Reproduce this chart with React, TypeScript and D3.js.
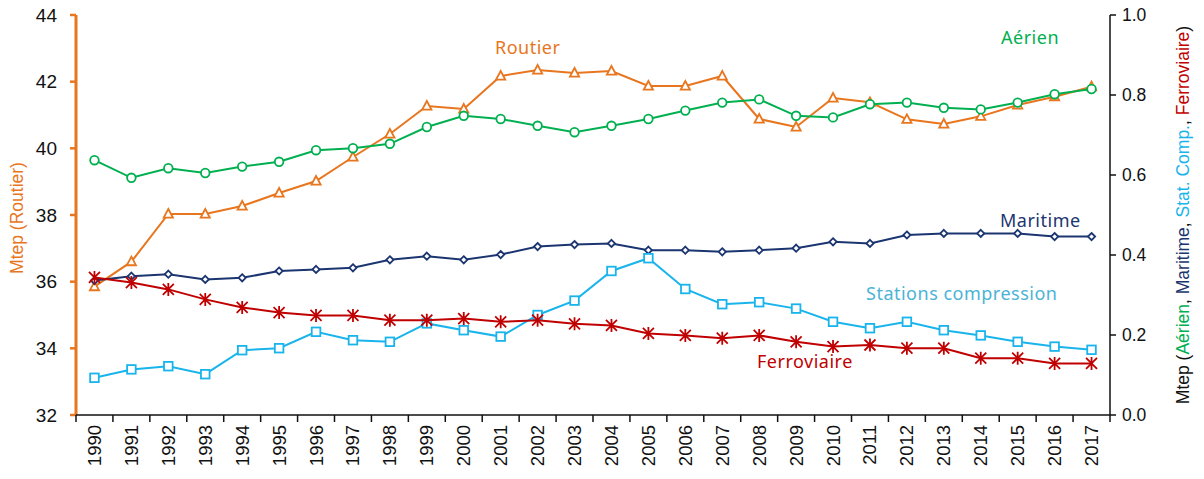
import React from "react";
import { scaleBand, scaleLinear, line } from "d3";

const years = [
  1990, 1991, 1992, 1993, 1994, 1995, 1996, 1997, 1998, 1999, 2000, 2001, 2002, 2003,
  2004, 2005, 2006, 2007, 2008, 2009, 2010, 2011, 2012, 2013, 2014, 2015, 2016, 2017,
];

// axe gauche (Mtep)
const routier = [
  35.85, 36.6, 38.03, 38.03, 38.27, 38.66, 39.02, 39.74, 40.43, 41.27, 41.18, 42.17, 42.35, 42.26,
  42.32, 41.87, 41.87, 42.17, 40.88, 40.64, 41.51, 41.38, 40.87, 40.73, 40.96, 41.3, 41.55, 41.85,
];

// axe droit (Mtep)
const aerien = [
  0.637, 0.593, 0.617, 0.605, 0.621, 0.633, 0.662, 0.667, 0.678, 0.72, 0.748, 0.74, 0.723, 0.707,
  0.723, 0.74, 0.761, 0.781, 0.789, 0.748, 0.744, 0.777, 0.781, 0.768, 0.764, 0.781, 0.802, 0.815,
];
const maritime = [
  0.336, 0.347, 0.352, 0.339, 0.343, 0.36, 0.364, 0.368, 0.388, 0.397, 0.388, 0.401, 0.421, 0.426,
  0.429, 0.412, 0.412, 0.408, 0.412, 0.417, 0.433, 0.429, 0.45, 0.454, 0.454, 0.454, 0.446, 0.446,
];
const stations = [
  0.093, 0.114, 0.122, 0.102, 0.162, 0.167, 0.208, 0.187, 0.183, 0.229, 0.212, 0.196, 0.25, 0.286,
  0.36, 0.392, 0.315, 0.277, 0.282, 0.266, 0.233, 0.217, 0.233, 0.212, 0.199, 0.183, 0.171, 0.163,
];
const ferroviaire = [
  0.344, 0.331, 0.314, 0.289, 0.269, 0.256, 0.249, 0.249, 0.237, 0.237, 0.241, 0.233, 0.237, 0.228,
  0.224, 0.204, 0.199, 0.192, 0.199, 0.183, 0.171, 0.175, 0.167, 0.167, 0.142, 0.142, 0.129, 0.129,
];

const leftTicks = [32, 34, 36, 38, 40, 42, 44];
const rightTicks = [0, 0.2, 0.4, 0.6, 0.8, 1.0];

const C = {
  routier: "#E8761E",
  aerien: "#00B050",
  maritime: "#1B3570",
  stations: "#1AB4EC",
  ferro: "#C00000",
};

const W = 1204;
const H = 479;
const m = { left: 76, right: 1110, top: 15, bottom: 415 };
const FONT = "'Liberation Sans', Arial, sans-serif";
const LFONT = "'Noto Sans', 'Open Sans', sans-serif";

const x = scaleBand<number>().domain(years).range([m.left, m.right]);
const cx = (yr: number) => (x(yr) as number) + x.bandwidth() / 2;
const yL = scaleLinear().domain([32, 44]).range([m.bottom, m.top]);
const yR = scaleLinear().domain([0, 1]).range([m.bottom, m.top]);

type Marker = "triangle" | "circle" | "diamond" | "square" | "star";

const Mark = ({ type, px, py, color }: { type: Marker; px: number; py: number; color: string }) => {
  if (type === "circle")
    return <circle cx={px} cy={py} r={4.3} fill="#fff" stroke={color} strokeWidth={1.8} />;
  if (type === "square")
    return <rect x={px - 4.3} y={py - 4.3} width={8.6} height={8.6} fill="#fff" stroke={color} strokeWidth={1.8} />;
  if (type === "diamond")
    return (
      <path
        d={`M${px},${py - 3.6}L${px + 3.6},${py}L${px},${py + 3.6}L${px - 3.6},${py}Z`}
        fill="#fff"
        stroke={color}
        strokeWidth={1.8}
      />
    );
  if (type === "triangle")
    return (
      <path
        d={`M${px},${py - 5}L${px + 4.6},${py + 3.6}L${px - 4.6},${py + 3.6}Z`}
        fill="#fff"
        stroke={color}
        strokeWidth={1.8}
      />
    );
  const s = 5.5;
  return (
    <path
      d={`M${px - s},${py - s}L${px + s},${py + s}M${px - s},${py + s}L${px + s},${py - s}M${px},${py - s - 1}L${px},${py + s + 1}`}
      stroke={color}
      strokeWidth={1.8}
      fill="none"
    />
  );
};

const Series = ({
  values,
  scale,
  color,
  marker,
}: {
  values: number[];
  scale: (v: number) => number;
  color: string;
  marker: Marker;
}) => {
  const pts = values.map((v, i) => [cx(years[i]), scale(v)] as [number, number]);
  const d = line()(pts) || "";
  return (
    <g>
      <path d={d} fill="none" stroke={color} strokeWidth={2} />
      {pts.map((p, i) => (
        <Mark key={i} type={marker} px={p[0]} py={p[1]} color={color} />
      ))}
    </g>
  );
};

const labels = [
  { text: "Routier", x: 495, y: 54, color: C.routier },
  { text: "Aérien", x: 1001, y: 44, color: C.aerien },
  { text: "Maritime", x: 1000, y: 227, color: C.maritime },
  { text: "Stations compression", x: 866, y: 300, color: "#4BB3D6" },
  { text: "Ferroviaire", x: 757, y: 368, color: C.ferro },
];

export default function App() {
  return (
    <svg
      width={W}
      height={H}
      style={{ position: "absolute", left: 0, top: 0, background: "#fff" }}
      fontFamily={FONT}
    >
      {/* axe gauche */}
      <line x1={m.left} x2={m.left} y1={m.top} y2={m.bottom} stroke={C.routier} strokeWidth={3} />
      {leftTicks.map((t) => (
        <g key={t}>
          <line x1={m.left - 6} x2={m.left} y1={yL(t)} y2={yL(t)} stroke={C.routier} strokeWidth={2.5} />
          <text x={m.left - 19} y={yL(t)} dy="0.35em" textAnchor="end" fontSize={19} fill="#111">
            {t}
          </text>
        </g>
      ))}
      <text
        transform={`translate(23,${(m.top + m.bottom) / 2 + 3}) rotate(-90)`}
        textAnchor="middle"
        fontSize={17.5}
        fill={C.routier}
      >
        Mtep (Routier)
      </text>

      {/* axe droit */}
      <line x1={m.right} x2={m.right} y1={m.top} y2={m.bottom} stroke="#111" strokeWidth={1.5} />
      {rightTicks.map((t) => (
        <g key={t}>
          <line x1={m.right} x2={m.right + 6} y1={yR(t)} y2={yR(t)} stroke="#111" strokeWidth={1.5} />
          <text x={m.right + 12} y={yR(t)} dy="0.35em" fontSize={17.5} fill="#111">
            {t.toFixed(1)}
          </text>
        </g>
      ))}
      <text
        transform={`translate(1189,${(m.top + m.bottom) / 2}) rotate(-90)`}
        textAnchor="middle"
        fontSize={17.5}
        fill="#111"
      >
        <tspan>Mtep (</tspan>
        <tspan fill={C.aerien}>Aérien</tspan>
        <tspan>, </tspan>
        <tspan fill={C.maritime}>Maritime</tspan>
        <tspan>, </tspan>
        <tspan fill={C.stations}>Stat. Comp.</tspan>
        <tspan>, </tspan>
        <tspan fill={C.ferro}>Ferroviaire</tspan>
        <tspan>)</tspan>
      </text>

      {/* axe des x */}
      <line x1={m.left} x2={m.right} y1={m.bottom} y2={m.bottom} stroke="#111" strokeWidth={1.5} />
      {[...years.map((yr) => x(yr) as number), m.right].map((px, i) => (
        <line key={i} x1={px} x2={px} y1={m.bottom} y2={m.bottom + 7} stroke="#111" strokeWidth={1.5} />
      ))}
      {years.map((yr) => (
        <text
          key={yr}
          transform={`translate(${cx(yr)},${m.bottom + 10}) rotate(-90)`}
          textAnchor="end"
          dy="0.35em"
          fontSize={18.5}
          fill="#111"
        >
          {yr}
        </text>
      ))}

      {/* séries */}
      <Series values={routier} scale={yL} color={C.routier} marker="triangle" />
      <Series values={aerien} scale={yR} color={C.aerien} marker="circle" />
      <Series values={maritime} scale={yR} color={C.maritime} marker="diamond" />
      <Series values={stations} scale={yR} color={C.stations} marker="square" />
      <Series values={ferroviaire} scale={yR} color={C.ferro} marker="star" />

      {labels.map((l) => (
        <text
          key={l.text}
          x={l.x}
          y={l.y}
          fontSize={18}
          letterSpacing={0.5}
          fill={l.color}
          fontFamily={LFONT}
        >
          {l.text}
        </text>
      ))}
    </svg>
  );
}
